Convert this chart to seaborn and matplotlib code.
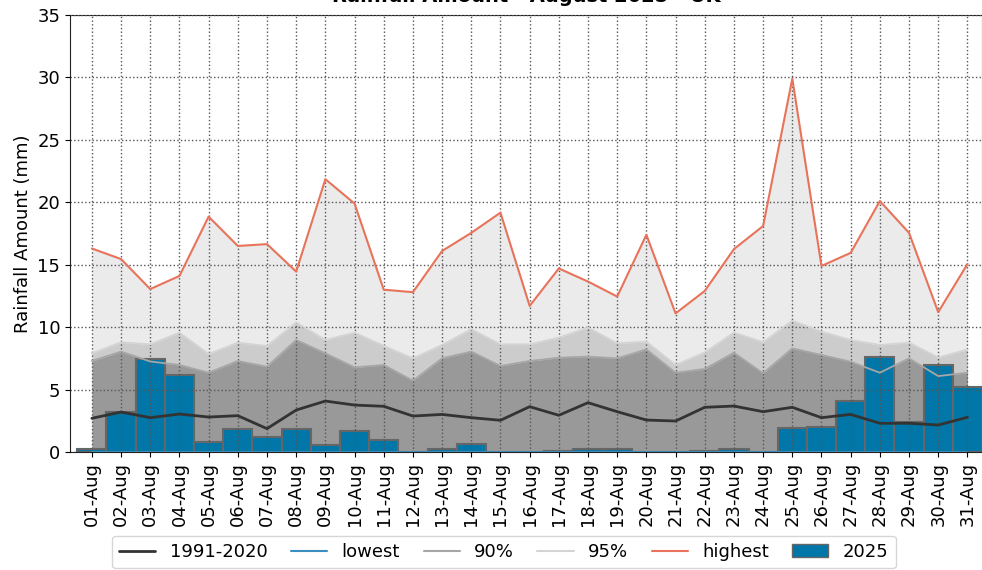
import numpy as np
import pandas as pd
import matplotlib
matplotlib.use("Agg")
import matplotlib.pyplot as plt
import seaborn as sns
from matplotlib.lines import Line2D
from matplotlib.patches import Patch

# daily rainfall values (mm)
days = ["%02d-Aug" % d for d in range(1, 32)]

clim_mean = [2.70, 3.20, 2.75, 3.04, 2.80, 2.91, 1.87, 3.36, 4.08, 3.76, 3.66,
             2.88, 3.01, 2.75, 2.54, 3.63, 2.94, 3.95, 3.23, 2.56, 2.48, 3.58,
             3.68, 3.23, 3.58, 2.75, 3.01, 2.30, 2.30, 2.16, 2.78]
lowest = [0.0] * 31
p90 = [7.29, 8.04, 7.25, 6.97, 6.35, 7.29, 6.83, 8.97, 7.90, 6.78, 6.97,
       5.71, 7.50, 8.04, 6.89, 7.29, 7.55, 7.64, 7.50, 8.22, 6.35, 6.65,
       7.95, 6.30, 8.30, 7.77, 7.23, 6.35, 7.50, 6.08, 6.35]
p95 = [7.90, 8.79, 8.62, 9.56, 7.85, 8.76, 8.49, 10.38, 8.97, 9.56, 8.50,
       7.50, 8.57, 9.83, 8.62, 8.62, 9.16, 9.96, 8.70, 8.84, 6.97, 7.98,
       9.56, 8.80, 10.52, 9.64, 8.97, 8.57, 8.76, 7.57, 8.20]
highest = [16.3, 15.45, 13.05, 14.1, 18.85, 16.5, 16.65, 14.45, 21.85, 19.9, 13.0,
           12.8, 16.1, 17.55, 19.17, 11.7, 14.7, 13.65, 12.45, 17.4, 11.1, 12.9,
           16.25, 18.1, 29.9, 14.9, 15.95, 20.1, 17.55, 11.2, 15.05]
rain_2025 = [0.27, 3.23, 7.47, 6.17, 0.77, 1.82, 1.23, 1.87, 0.56, 1.71, 0.96,
             0.0, 0.24, 0.64, 0.0, 0.0, 0.05, 0.24, 0.24, 0.0, 0.0, 0.05,
             0.27, 0.0, 1.90, 2.00, 4.08, 7.58, 2.38, 6.97, 5.23]

df = pd.DataFrame({"day": days, "pos": np.arange(len(days)), "mean": clim_mean,
                   "lowest": lowest, "p90": p90, "p95": p95, "highest": highest,
                   "rain": rain_2025})

sns.set_style("ticks")
plt.rcParams["font.family"] = ["DejaVu Sans"]
plt.rcParams["text.color"] = "black"
plt.rcParams["axes.labelcolor"] = "black"
plt.rcParams["xtick.color"] = "black"
plt.rcParams["ytick.color"] = "black"

fig = plt.figure(figsize=(9.82, 5.7), dpi=100)
ax = fig.add_axes([70 / 982, 118 / 570, 912 / 982, 437 / 570])

# climatology bands
ax.fill_between(df["pos"], df["p95"], df["highest"], color="#ebebeb", lw=0, zorder=0.5)
ax.fill_between(df["pos"], df["p90"], df["p95"], color="#cccccc", lw=0, zorder=0.6)
ax.fill_between(df["pos"], df["lowest"], df["p90"], color="#999999", lw=0, zorder=0.7)

# 2025 bars
sns.barplot(data=df, x="day", y="rain", color="#0077a8", width=1.0, saturation=1,
            edgecolor="#666666", linewidth=1.5, ax=ax, zorder=1)

# lines
sns.lineplot(data=df, x="pos", y="highest", color="#e8735a", lw=1.5, ax=ax, zorder=3)
sns.lineplot(data=df, x="pos", y="p95", color="#d4d4d4", lw=1.3, ax=ax, zorder=3)
sns.lineplot(data=df, x="pos", y="p90", color="#a6a6a6", lw=1.3, ax=ax, zorder=3)
sns.lineplot(data=df, x="pos", y="lowest", color="#3a8fc0", lw=1.3, ax=ax, zorder=3)
sns.lineplot(data=df, x="pos", y="mean", color="#333333", lw=2, ax=ax, zorder=4)

ax.set_xlim(-0.75, 30.5)
ax.set_ylim(0, 35)
ax.set_yticks(range(0, 36, 5))
ax.set_xticks(df["pos"])
ax.set_xticklabels(days, rotation=90, fontsize=13)
ax.tick_params(axis="y", labelsize=13)
ax.set_xlabel("")
ax.set_ylabel("Rainfall Amount (mm)", fontsize=13)
ax.set_title("Rainfall Amount - August 2025 - UK", fontsize=14, fontweight="bold", pad=9)
ax.set_axisbelow(False)
ax.grid(True, linestyle=":", color="#555555", linewidth=1)
for s in ax.spines.values():
    s.set_color("#222222")

handles = [
    Line2D([0], [0], color="#333333", lw=2),
    Line2D([0], [0], color="#3a8fc0", lw=1.5),
    Line2D([0], [0], color="#a6a6a6", lw=1.5),
    Line2D([0], [0], color="#d4d4d4", lw=1.5),
    Line2D([0], [0], color="#e8735a", lw=1.5),
    Patch(facecolor="#0077a8", edgecolor="#666666"),
]
labels = ["1991-2020", "lowest", "90%", "95%", "highest", "2025"]
fig.legend(handles, labels, loc="center", bbox_to_anchor=(504 / 982, 1 - 552 / 570),
           ncol=6, fontsize=13, frameon=True, handlelength=2, columnspacing=1.3)

fig.savefig("out.png", dpi=100)
